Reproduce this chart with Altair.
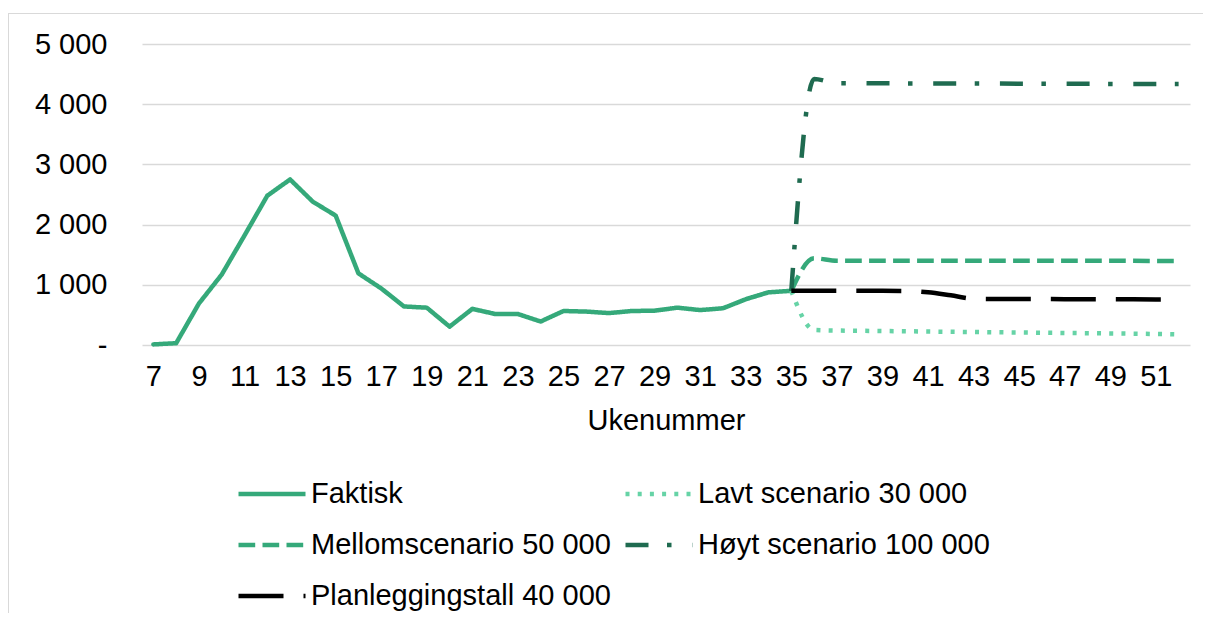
import altair as alt
import pandas as pd

# ---- data ----
# legend order (filled column by column): Faktisk, Mellom, Plan | Lavt, Høyt
series_names = ["Faktisk", "Mellomscenario 50 000", "Planleggingstall 40 000",
                "Lavt scenario 30 000", "Høyt scenario 100 000"]
series_colors = ["#35A97A", "#35A97A", "#000000", "#66D3A6", "#1F6B50"]
series_dashes = [[1, 0], [16.7, 7.3], [45, 20], [4, 8.2], [23, 18.5, 4.5, 20.7]]

weeks_actual = list(range(7, 36))
faktisk = [10, 30, 690, 1170, 1820, 2480, 2750, 2380, 2150, 1190, 940, 640, 620,
           305, 600, 515, 515, 390, 565, 555, 530, 565, 570, 620, 580, 610, 760,
           875, 900]

weeks_scen = list(range(35, 53))
lavt = [900, 250, 240, 236, 232, 228, 224, 220, 216, 212, 208, 204, 200, 196,
        192, 188, 183, 175]
mellom = [900, 1440, 1400, 1400, 1400, 1400, 1400, 1400, 1400, 1400, 1400, 1400,
          1400, 1400, 1400, 1398, 1396, 1395]
hoyt = [900, 4420, 4350, 4350, 4348, 4346, 4345, 4344, 4343, 4342, 4341, 4340,
        4339, 4338, 4337, 4336, 4335, 4335]
plan = [900, 900, 900, 900, 900, 898, 875, 825, 770, 764, 764, 763, 762, 760,
        759, 758, 757, 756]

x_ticks = list(range(7, 52, 2))
y_ticks = [0, 1000, 2000, 3000, 4000, 5000]

# ---- tables ----
df_actual = pd.DataFrame({"uke": weeks_actual, "verdi": faktisk, "serie": "Faktisk"})
frames = []
for name, vals in [("Lavt scenario 30 000", lavt), ("Mellomscenario 50 000", mellom),
                   ("Høyt scenario 100 000", hoyt), ("Planleggingstall 40 000", plan)]:
    frames.append(pd.DataFrame({"uke": weeks_scen, "verdi": vals, "serie": name}))
df_scen = pd.concat(frames, ignore_index=True)

FONT = "Liberation Sans"

x_enc = alt.X("uke:Q",
              scale=alt.Scale(domain=[6.5, 52.5], nice=False, zero=False),
              axis=alt.Axis(values=x_ticks, title="Ukenummer", grid=False,
                            domain=False, ticks=False, labelPadding=17,
                            titlePadding=15, labelFlush=False))
y_enc = alt.Y("verdi:Q",
              scale=alt.Scale(domain=[0, 5000], nice=False),
              axis=alt.Axis(values=y_ticks, title=None, grid=True,
                            gridColor="#d9d9d9", gridWidth=1.5, domain=False,
                            ticks=False, labelPadding=35,
                            labelExpr="datum.value == 0 ? '-\u00a0\u00a0' : replace(format(datum.value, ','), ',', ' ')"))

legend = alt.Legend(title=None, orient="none", legendX=94, legendY=414,
                    columns=2, columnPadding=5, rowPadding=0,
                    symbolType="stroke", symbolSize=4489, symbolStrokeWidth=4.5,
                    labelFont=FONT, labelFontSize=29, labelColor="black",
                    labelLimit=0, labelOffset=3, padding=0)

color_enc = alt.Color("serie:N", scale=alt.Scale(domain=series_names, range=series_colors),
                      legend=legend)
dash_enc = alt.StrokeDash("serie:N", scale=alt.Scale(domain=series_names, range=series_dashes),
                          legend=legend)

actual = alt.Chart(df_actual).mark_line(strokeWidth=4.5, strokeCap="round",
                                         strokeJoin="round").encode(
    x=x_enc, y=y_enc, color=color_enc, strokeDash=dash_enc)

scen = alt.Chart(df_scen).mark_line(strokeWidth=4.5, interpolate="monotone",
                                     strokeCap="butt").encode(
    x=x_enc, y=y_enc, color=color_enc, strokeDash=dash_enc)

# decorative outer frame (top and left edges), as in the reference
frame_top = alt.Chart(pd.DataFrame({"a": [0]})).mark_rule(color="#d9d9d9", strokeWidth=1).encode(
    x=alt.value(-134), x2=alt.value(1070), y=alt.value(-30.5))
frame_left = alt.Chart(pd.DataFrame({"a": [0]})).mark_rule(color="#d9d9d9", strokeWidth=1).encode(
    x=alt.value(-133.5), y=alt.value(-30), y2=alt.value(580))

chart = alt.layer(frame_top, frame_left, actual, scen).properties(
    width=1048, height=301,
    padding={"left": 134, "top": 36, "right": 13, "bottom": 268},
    autosize=alt.AutoSizeParams(type="none"),
).configure_view(stroke=None).configure_axis(
    labelFont=FONT, labelFontSize=29, labelColor="black",
    titleFont=FONT, titleFontSize=29, titleColor="black", titleFontWeight="normal",
)

chart.save("out.html", embed_options={"renderer": "svg", "actions": False})
